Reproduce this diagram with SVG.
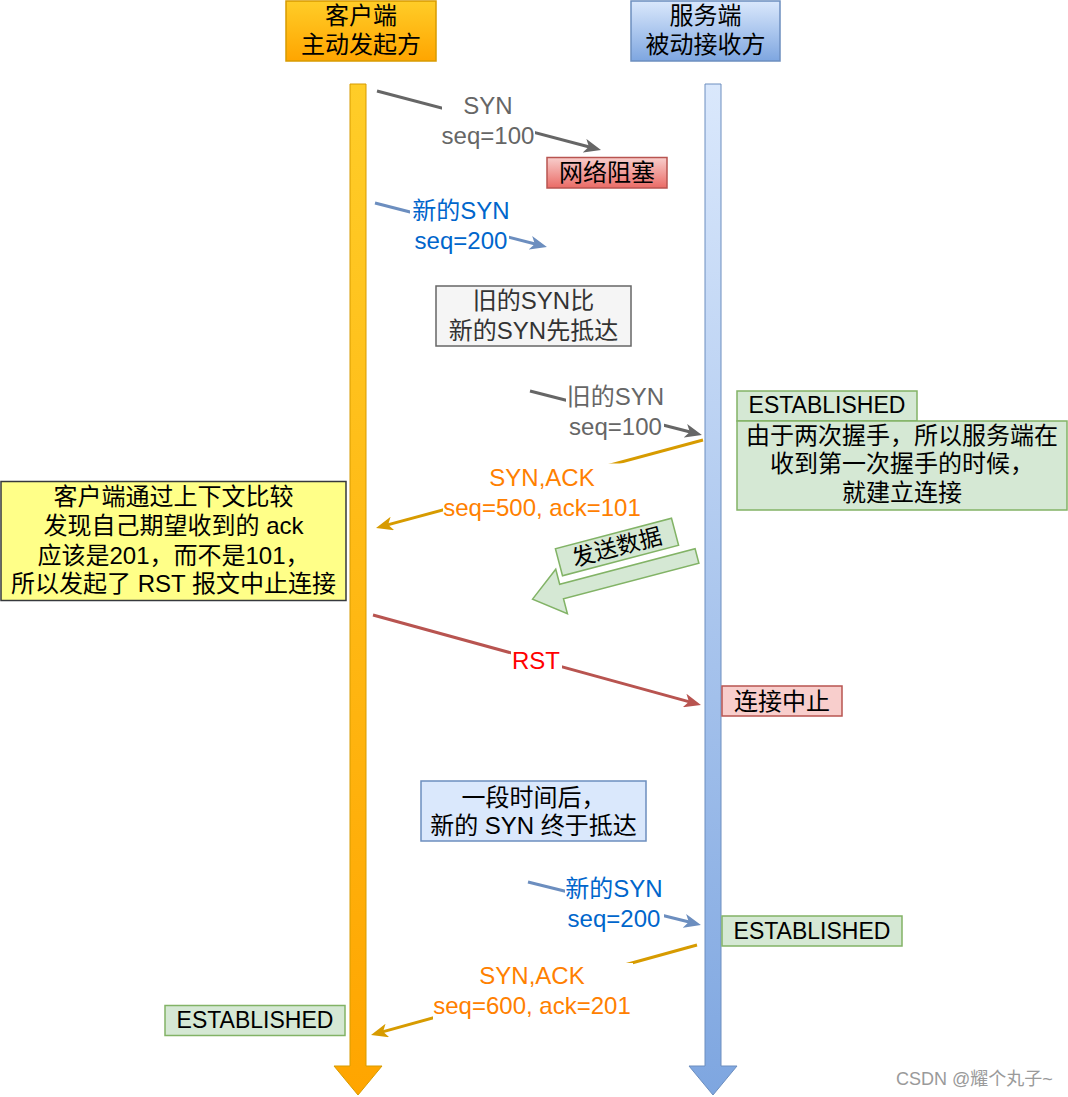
<svg xmlns="http://www.w3.org/2000/svg" width="1068" height="1097" viewBox="0 0 1068 1097">
<defs>
<style>
text{font-family:"Liberation Sans","Noto Sans CJK SC",sans-serif;font-size:24px;text-anchor:middle}
.n{fill:#000000}
.g{fill:#666666}
.b{fill:#0066CC}
.o{fill:#FF8000}
.r{fill:#FF0000}
.dk{fill:#333333}
.e{font-size:23px}
.bg{fill:#ffffff;stroke:none}
.wm{font-size:18px;fill:#9a9a9a;text-anchor:start}
</style>
<linearGradient id="gOr" x1="0" y1="0" x2="0" y2="1"><stop offset="0" stop-color="#ffcd28"/><stop offset="1" stop-color="#ffa500"/></linearGradient>
<linearGradient id="gBl" x1="0" y1="0" x2="0" y2="1"><stop offset="0" stop-color="#dae8fc"/><stop offset="1" stop-color="#7ea6e0"/></linearGradient>
<linearGradient id="gRd" x1="0" y1="0" x2="0" y2="1"><stop offset="0" stop-color="#f8cecc"/><stop offset="1" stop-color="#ea6b66"/></linearGradient>
<marker id="mG" markerWidth="18" markerHeight="14" refX="8" refY="7" orient="auto" markerUnits="userSpaceOnUse"><path d="M0,0 L17,7 L0,14 L4.5,7 z" fill="#666666"/></marker>
<marker id="mB" markerWidth="18" markerHeight="14" refX="8" refY="7" orient="auto" markerUnits="userSpaceOnUse"><path d="M0,0 L17,7 L0,14 L4.5,7 z" fill="#6c8ebf"/></marker>
<marker id="mO" markerWidth="18" markerHeight="14" refX="8" refY="7" orient="auto" markerUnits="userSpaceOnUse"><path d="M0,0 L17,7 L0,14 L4.5,7 z" fill="#d79b00"/></marker>
<marker id="mR" markerWidth="18" markerHeight="14" refX="8" refY="7" orient="auto" markerUnits="userSpaceOnUse"><path d="M0,0 L17,7 L0,14 L4.5,7 z" fill="#b85450"/></marker>
</defs>
<rect x="0" y="0" width="1068" height="1097" fill="#ffffff"/>

<g id="client-header">
<rect x="286" y="1" width="150" height="60" fill="url(#gOr)" stroke="#d79b00" stroke-width="1.5"/>
<text class="n" x="361" y="24">客户端</text>
<text class="n" x="361" y="53">主动发起方</text>
</g>
<g id="server-header">
<rect x="631" y="1" width="149" height="60" fill="url(#gBl)" stroke="#6c8ebf" stroke-width="1.5"/>
<text class="n" x="705.5" y="24">服务端</text>
<text class="n" x="705.5" y="53">被动接收方</text>
</g>

<g id="client-lifeline">
<path d="M350,84 L366,84 L366,1066 L382,1066 L358,1095 L334,1066 L350,1066 Z" fill="url(#gOr)" stroke="#d79b00" stroke-width="1"/>
</g>
<g id="server-lifeline">
<path d="M705,84 L721,84 L721,1066 L737,1066 L713,1095 L689,1066 L705,1066 Z" fill="url(#gBl)" stroke="#6c8ebf" stroke-width="1"/>
</g>

<g id="connectors">
<line x1="377" y1="91" x2="592.3" y2="147.7" stroke="#666666" stroke-width="3" marker-end="url(#mG)"/>
<line x1="375" y1="203" x2="538.2" y2="244.8" stroke="#6c8ebf" stroke-width="3" marker-end="url(#mB)"/>
<line x1="530" y1="391" x2="693.2" y2="432.8" stroke="#666666" stroke-width="3" marker-end="url(#mG)"/>
<line x1="703" y1="440" x2="384.7" y2="525.6" stroke="#d79b00" stroke-width="3" marker-end="url(#mO)"/>
<line x1="373" y1="615" x2="692.3" y2="702.6" stroke="#b85450" stroke-width="3" marker-end="url(#mR)"/>
<line x1="528" y1="882" x2="692.2" y2="922.8" stroke="#6c8ebf" stroke-width="3" marker-end="url(#mB)"/>
<line x1="697" y1="945" x2="379.7" y2="1032.6" stroke="#d79b00" stroke-width="3" marker-end="url(#mO)"/>

<rect class="bg" x="442" y="91" width="93" height="59"/>
<text class="g" x="488" y="113.5">SYN</text>
<text class="g" x="488" y="143.5">seq=100</text>

<rect class="bg" x="410" y="196" width="99" height="58"/>
<text class="b" x="461" y="219">新的SYN</text>
<text class="b" x="461" y="249">seq=200</text>

<rect class="bg" x="566" y="382" width="98" height="60"/>
<text class="g" x="615.5" y="405">旧的SYN</text>
<text class="g" x="615.5" y="435">seq=100</text>

<rect class="bg" x="443" y="463.5" width="198" height="58"/>
<text class="o" x="542" y="485.5">SYN,ACK</text>
<text class="o" x="542" y="515.5">seq=500, ack=101</text>

<rect class="bg" x="511" y="647" width="51" height="26"/>
<text class="r" x="536" y="668.5">RST</text>

<rect class="bg" x="565" y="873" width="99" height="59"/>
<text class="b" x="614" y="896.5">新的SYN</text>
<text class="b" x="614" y="926.5">seq=200</text>

<rect class="bg" x="433" y="963" width="200" height="57"/>
<text class="o" x="532" y="983.5">SYN,ACK</text>
<text class="o" x="532" y="1013.5">seq=600, ack=201</text>
</g>

<g id="network-block">
<rect x="547" y="157.5" width="120" height="30.5" fill="url(#gRd)" stroke="#b85450" stroke-width="1.5"/>
<text class="n" x="607" y="181">网络阻塞</text>
</g>

<g id="old-before-new">
<rect x="436" y="286" width="195" height="60" fill="#f5f5f5" stroke="#666666" stroke-width="1.5"/>
<text class="dk" x="533.5" y="308.5">旧的SYN比</text>
<text class="dk" x="533.5" y="338.5">新的SYN先抵达</text>
</g>

<g id="established-1">
<rect x="737" y="391" width="180" height="30" fill="#d5e8d4" stroke="#82b366" stroke-width="1.5"/>
<text class="n e" x="827" y="412.5">ESTABLISHED</text>
</g>
<g id="server-note">
<rect x="737" y="421" width="330" height="89" fill="#d5e8d4" stroke="#82b366" stroke-width="1.5"/>
<text class="n" x="902" y="443.5">由于两次握手，所以服务端在</text>
<text class="n" x="902" y="472">收到第一次握手的时候，</text>
<text class="n" x="902" y="500.5">就建立连接</text>
</g>

<g id="client-note">
<rect x="1" y="481.5" width="345" height="119" fill="#ffff88" stroke="#36393d" stroke-width="1.5"/>
<text class="n" x="173.5" y="504.5">客户端通过上下文比较</text>
<text class="n" x="173.5" y="534">发现自己期望收到的 ack</text>
<text class="n" x="173.5" y="563.5">应该是201，而不是101，</text>
<text class="n" x="173.5" y="592">所以发起了 RST 报文中止连接</text>
</g>

<g id="send-data">
<g transform="translate(697,556) rotate(-14.7)">
<path d="M0,-7.5 L0,7.5 L-140,7.5 L-140,23 L-170,0 L-140,-23 L-140,-7.5 Z" fill="#d5e8d4" stroke="#82b366" stroke-width="1.5"/>
</g>
<g transform="translate(617,547) rotate(-14.7)">
<rect x="-60" y="-14" width="120" height="28" fill="#d5e8d4" stroke="#82b366" stroke-width="1.5"/>
<text class="n e" x="0" y="8">发送数据</text>
</g>
</g>

<g id="abort">
<rect x="722" y="686" width="120" height="30" fill="#f8cecc" stroke="#b85450" stroke-width="1.5"/>
<text class="n" x="782" y="709.5">连接中止</text>
</g>

<g id="later-note">
<rect x="421" y="781" width="225" height="60" fill="#dae8fc" stroke="#6c8ebf" stroke-width="1.5"/>
<text class="n" x="533.5" y="805.5">一段时间后，</text>
<text class="n" x="533.5" y="833.5">新的 SYN 终于抵达</text>
</g>

<g id="established-2">
<rect x="722" y="916" width="180" height="30" fill="#d5e8d4" stroke="#82b366" stroke-width="1.5"/>
<text class="n e" x="812" y="938.5">ESTABLISHED</text>
</g>

<g id="established-3">
<rect x="165" y="1005.5" width="180" height="30" fill="#d5e8d4" stroke="#82b366" stroke-width="1.5"/>
<text class="n e" x="255" y="1028">ESTABLISHED</text>
</g>

<text class="wm" x="896" y="1085">CSDN @耀个丸子~</text>
</svg>
